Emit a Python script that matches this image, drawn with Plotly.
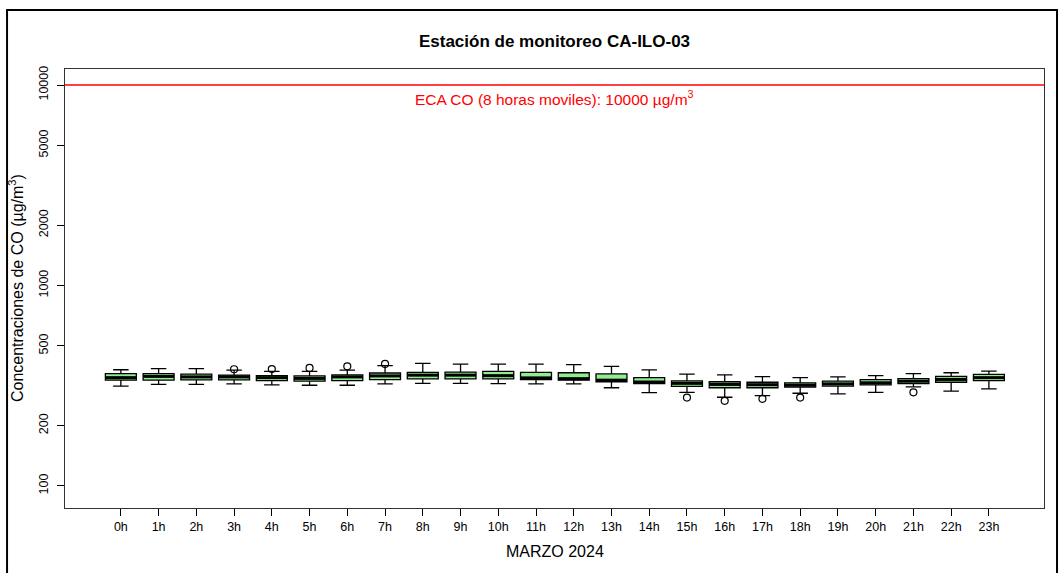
import plotly.graph_objects as go

hours = ["0h","1h","2h","3h","4h","5h","6h","7h","8h","9h","10h","11h",
         "12h","13h","14h","15h","16h","17h","18h","19h","20h","21h","22h","23h"]
upper = [380,385,385,378,373,373,378,398,409,405,405,405,403,395,379,361,358,351,347,350,355,363,367,374]
q3    = [363,363,361,357,355,354,358,366,369,370,373,369,367,362,347,334,331,329,327,333,339,343,352,360]
med   = [347,352,350,350,347,344,350,354,357,357,355,346,343,337,330,325,321,320,318,323,327,333,340,347]
q1    = [337,337,338,338,335,333,335,339,342,342,342,339,337,331,324,314,309,309,311,315,319,324,329,335]
lower = [315,321,321,323,319,318,318,323,325,325,324,323,323,309,292,293,277,282,290,288,293,312,297,305]
out_hour = [3, 4, 5, 6, 7, 15, 16, 17, 18, 21]
out_val  = [382,383,388,395,406,276,266,272,276,293]

limit = 10000
title = "Estación de monitoreo CA-ILO-03"
limit_label = "ECA CO (8 horas moviles): 10000 µg/m<sup>3</sup>"
xlab = "MARZO 2024"
ylab = "Concentraciones de CO (µg/m<sup>3</sup>)"
yticks = [100, 200, 500, 1000, 2000, 5000, 10000]

xs = list(range(len(hours)))
FONT = "Liberation Sans, Arial, sans-serif"

fig = go.Figure()
fig.add_trace(go.Box(
    x=xs, q1=q1, median=med, q3=q3, lowerfence=lower, upperfence=upper,
    width=0.82, whiskerwidth=0.5, fillcolor="#90EE90",
    line=dict(color="black", width=1.3), boxpoints=False, showlegend=False,
    hoverinfo="skip"))

# thick median lines
mx, my = [], []
for x, m in zip(xs, med):
    mx += [x - 0.41, x + 0.41, None]
    my += [m, m, None]
fig.add_trace(go.Scatter(x=mx, y=my, mode="lines", line=dict(color="black", width=3),
                         showlegend=False, hoverinfo="skip"))

fig.add_trace(go.Scatter(x=out_hour, y=out_val, mode="markers",
                         marker=dict(symbol="circle-open", color="black", size=7, line=dict(width=1.2)),
                         showlegend=False, hoverinfo="skip"))

# limit line
fig.add_shape(type="line", xref="paper", x0=0, x1=1, yref="y", y0=limit, y1=limit,
              line=dict(color="red", width=1.5))
fig.add_annotation(text=limit_label, xref="paper", x=0.5, yref="y", y=4.0, yanchor="top",
                   yshift=-1, showarrow=False, font=dict(color="red", size=15.5, family=FONT))

# outer frame
fig.add_shape(type="rect", xref="paper", yref="paper", x0=-0.0592, x1=1.0133,
              y0=-0.17, y1=1.1344, line=dict(color="black", width=2), layer="below")

fig.add_annotation(text=xlab, xref="paper", x=0.5, yref="paper", y=-0.098, yanchor="middle",
                   showarrow=False, font=dict(size=16, family=FONT, color="black"))
fig.add_annotation(text=ylab, xref="paper", x=-0.0505, xanchor="center", yref="paper", y=0.5,
                   textangle=-90, showarrow=False, font=dict(size=16, family=FONT, color="black"))

fig.update_layout(
    width=1060, height=573,
    margin=dict(l=65, r=16, t=69, b=65),
    paper_bgcolor="white", plot_bgcolor="white",
    title=dict(text="<b>" + title + "</b>", x=0.5, xref="paper", xanchor="center",
               y=1 - 41/573, yanchor="middle", font=dict(size=17, family=FONT, color="black")),
    font=dict(family=FONT, color="black"),
    xaxis=dict(range=[-1.48, 24.46], tickvals=xs, ticktext=hours, ticks="outside",
               ticklen=7, tickcolor="black", showgrid=False, zeroline=False,
               showline=True, linecolor="#333333", mirror=True, linewidth=1,
               tickfont=dict(size=12.5, family=FONT, color="black")),
    yaxis=dict(type="log", range=[1.89, 4.08], tickvals=yticks,
               ticktext=[str(v) for v in yticks], tickangle=-90, ticks="outside",
               ticklen=7, tickcolor="black", showgrid=False, zeroline=False,
               showline=True, linecolor="#333333", mirror=True, linewidth=1,
               ticklabelstandoff=4,
               tickfont=dict(size=12.5, family=FONT, color="black")),
)

fig.write_html("out.html")
